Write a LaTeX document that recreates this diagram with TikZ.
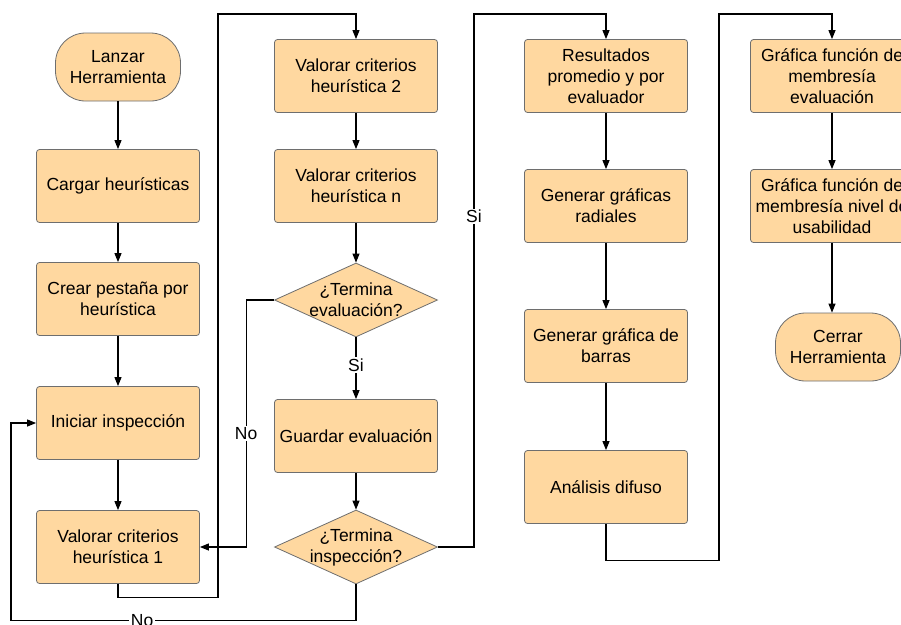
\documentclass[tikz,border=0pt]{standalone}
\usepackage{fontspec}
\setmainfont{Liberation Sans}
\usetikzlibrary{arrows.meta,positioning,shapes.geometric}
\definecolor{boxfill}{RGB}{255,216,160}
\definecolor{boxline}{RGB}{110,110,110}

\begin{document}
\begin{tikzpicture}[x=1pt,y=-1pt,
	every node/.style={font=\fontsize{17.5}{21}\selectfont,align=center},
	proc/.style={rectangle,rounded corners=3pt,draw=boxline,fill=boxfill,line width=0.8pt,minimum width=163pt,minimum height=73pt,inner sep=0pt},
	term/.style={rectangle,rounded corners=30pt,draw=boxline,fill=boxfill,line width=0.8pt,minimum width=125pt,minimum height=68pt,inner sep=0pt},
	decision/.style={diamond,draw=boxline,fill=boxfill,line width=0.8pt,minimum width=163pt,minimum height=74pt,inner sep=-14pt},
	flow/.style={line width=1.1pt,-{Triangle[length=9pt,width=7pt]}},
	lbl/.style={fill=white,inner sep=1.5pt}]
	\useasboundingbox (0,0) rectangle (901,624);
	\clip (0,0) rectangle (901,624);
	\fill[white] (0,0) rectangle (901,624);

	% first column
	\node[term] (launch) at (118,67) {Lanzar\\Herramienta};
	\node[proc] (load) at (118,186) {Cargar heurísticas};
	\node[proc] (tab) at (118,299) {Crear pestaña por\\heurística};
	\node[proc] (start) at (118,423) {Iniciar inspección};
	\node[proc] (rate1) at (118,547) {Valorar criterios\\heurística 1};

	% second column
	\node[proc] (rate2) at (356,76) {Valorar criterios\\heurística 2};
	\node[proc] (raten) at (356,186) {Valorar criterios\\heurística n};
	\node[decision] (endeval) at (356,300) {¿Termina\\evaluación?};
	\node[proc] (save) at (356,436) {Guardar evaluación};
	\node[decision] (endinsp) at (356,547) {¿Termina\\inspección?};

	% third column
	\node[proc] (avg) at (606,76) {Resultados\\promedio y por\\evaluador};
	\node[proc] (radial) at (606,206) {Generar gráficas\\radiales};
	\node[proc] (bars) at (606,346) {Generar gráfica de\\barras};
	\node[proc] (fuzzy) at (606,487) {Análisis difuso};

	% fourth column
	\node[proc] (memb1) at (832,76) {Gráfica función de\\membresía\\evaluación};
	\node[proc] (memb2) at (832,206) {Gráfica función de\\membresía nivel de\\usabilidad};
	\node[term] (close) at (838,347) {Cerrar\\Herramienta};

	\draw[flow] (launch) -- (load);
	\draw[flow] (load) -- (tab);
	\draw[flow] (tab) -- (start);
	\draw[flow] (start) -- (rate1);
	\draw[flow] (rate1.south) -- ++(0,14) -| (218,14) -| (rate2.north);
	\draw[flow] (rate2) -- (raten);
	\draw[flow] (raten) -- (endeval);
	\draw[flow] (endeval) -- node[lbl,pos=0.45]{Si} (save);
	\draw[flow] (endeval.west) -- ++(-28,0) |- node[lbl,pos=0.27]{No} (rate1.east);
	\draw[flow] (save) -- (endinsp);
	\draw[flow] (endinsp.south) -- ++(0,36) -| node[lbl,pos=0.31]{No} (11,423) -- (start.west);
	\draw[flow] (endinsp.east) -| node[lbl,pos=0.81]{Si} (474,14) -| (avg.north);
	\draw[flow] (avg) -- (radial);
	\draw[flow] (radial) -- (bars);
	\draw[flow] (bars) -- (fuzzy);
	\draw[flow] (fuzzy.south) -- ++(0,37) -| (719,14) -| (memb1.north);
	\draw[flow] (memb1) -- (memb2);
	\draw[flow] (memb2.south) -- (memb2.south |- close.north);
\end{tikzpicture}
\end{document}
